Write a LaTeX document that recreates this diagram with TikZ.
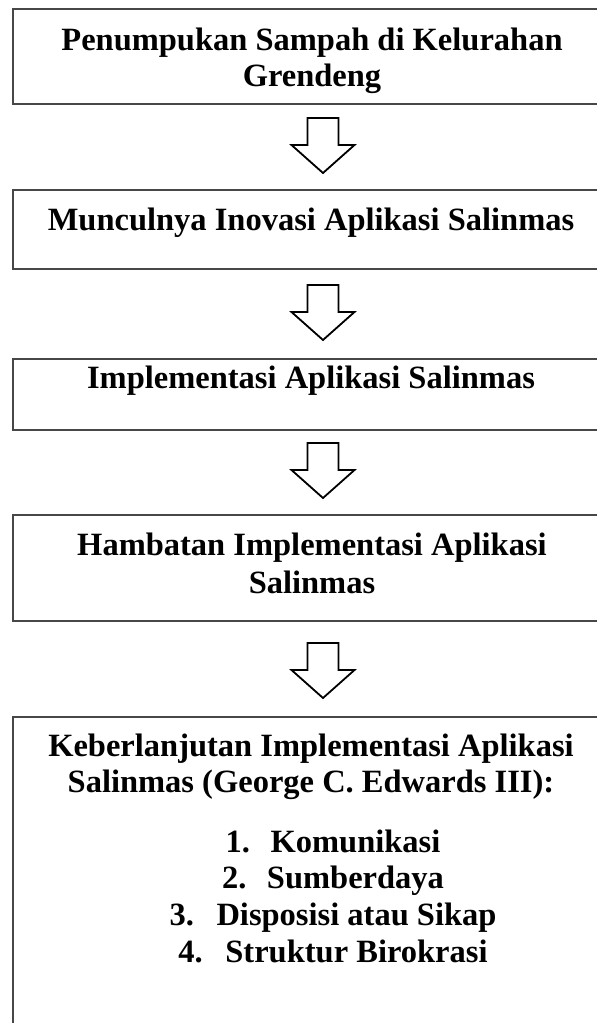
\documentclass[tikz,border=0pt]{standalone}
\usepackage{fontspec}
\setmainfont{Liberation Serif}
\usetikzlibrary{calc}
\begin{document}
\begin{tikzpicture}[x=1pt,y=-1pt,
  box/.style={draw=black!72, line width=1.5pt, minimum width=620pt, inner sep=0pt, outer sep=0pt},
  lbl/.style={anchor=base, font=\fontsize{32.5}{37}\selectfont\bfseries, inner sep=0pt},
  blockarrow/.style={draw=black, line width=1.8pt, line join=miter, fill=white},
  downarrow/.pic={\draw[blockarrow] (-15.5,0) -- (15.5,0) -- (15.5,27) -- (31.5,27) -- (0,55) -- (-31.5,27) -- (-15.5,27) -- cycle;}]
\useasboundingbox (0,0) rectangle (597,1023);
\clip (0,0) rectangle (597,1023);
% boxes
\node[box, minimum height=95pt]  (b1) at (323,56.5) {};
\node[box, minimum height=79pt]  (b2) at (323,229.5) {};
\node[box, minimum height=71pt]  (b3) at (323,394.5) {};
\node[box, minimum height=106pt] (b4) at (323,568) {};
\node[box, minimum height=343pt] (b5) at (323,888.5) {};
% texts
\node[lbl] (t1a) at (312,50) {Penumpukan Sampah di Kelurahan};
\node[lbl] (t1b) at (312,86) {Grendeng};
\node[lbl] (t2)  at (311,230) {Munculnya Inovasi Aplikasi Salinmas};
\node[lbl] (t3)  at (311,388) {Implementasi Aplikasi Salinmas};
\node[lbl] (t4a) at (312,555) {Hambatan Implementasi Aplikasi};
\node[lbl] (t4b) at (312,593) {Salinmas};
\node[lbl] (t5a) at (311,756) {Keberlanjutan Implementasi Aplikasi};
\node[lbl] (t5b) at (311,792) {Salinmas (George C. Edwards III):};
\node[lbl] (l1) at (333,852) {\makebox[45pt][l]{1.}Komunikasi};
\node[lbl] (l2) at (333,888) {\makebox[45pt][l]{2.}Sumberdaya};
\node[lbl] (l3) at (333,925) {\makebox[47pt][l]{3.}Disposisi atau Sikap};
\node[lbl] (l4) at (333,962) {\makebox[47pt][l]{4.}Struktur Birokrasi};
% block arrows
\pic (a1) at ($(b1.south)+(0,14)$) {downarrow};
\pic (a2) at ($(b2.south)+(0,16)$) {downarrow};
\pic (a3) at ($(b3.south)+(0,13)$) {downarrow};
\pic (a4) at ($(b4.south)+(0,22)$) {downarrow};
\end{tikzpicture}
\end{document}
